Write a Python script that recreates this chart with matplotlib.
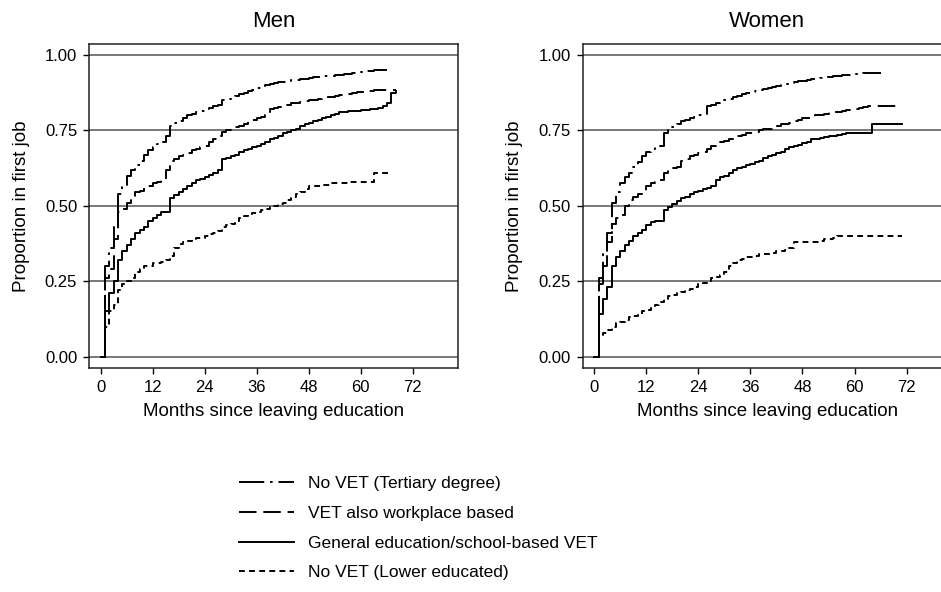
import matplotlib

matplotlib.use("Agg")
import matplotlib.pyplot as plt
import numpy as np

plt.rcParams["font.family"] = ["Liberation Sans", "DejaVu Sans"]

# Kaplan-Meier style failure curves, one value per month (month 0 = 0.0)
MEN_TERTIARY = [0.0, 0.30, 0.36, 0.44, 0.54, 0.565, 0.60, 0.62, 0.635, 0.65, 0.67,
                0.685, 0.695, 0.705, 0.71, 0.73, 0.765, 0.775, 0.78, 0.79, 0.80,
                0.805, 0.81, 0.815, 0.82, 0.825, 0.83, 0.835, 0.85, 0.855, 0.86,
                0.865, 0.87, 0.875, 0.88, 0.885, 0.89, 0.895, 0.90, 0.903, 0.906,
                0.91, 0.912, 0.914, 0.916, 0.918, 0.92, 0.922, 0.924, 0.926, 0.928,
                0.93, 0.931, 0.932, 0.933, 0.935, 0.937, 0.938, 0.94, 0.942, 0.944,
                0.946, 0.948, 0.95, 0.95, 0.95, 0.95]
MEN_WORKPLACE = [0.0, 0.26, 0.29, 0.39, 0.48, 0.49, 0.51, 0.53, 0.545, 0.55, 0.56,
                 0.565, 0.575, 0.58, 0.585, 0.62, 0.65, 0.655, 0.665, 0.67, 0.675,
                 0.685, 0.69, 0.695, 0.70, 0.71, 0.72, 0.73, 0.745, 0.75, 0.755,
                 0.76, 0.765, 0.77, 0.78, 0.785, 0.79, 0.795, 0.80, 0.82, 0.825,
                 0.828, 0.83, 0.835, 0.84, 0.842, 0.845, 0.848, 0.85, 0.852, 0.855,
                 0.858, 0.86, 0.862, 0.865, 0.868, 0.87, 0.872, 0.875, 0.876, 0.878,
                 0.88, 0.882, 0.884, 0.885, 0.885, 0.885, 0.885, 0.885]
MEN_GENERAL = [0.0, 0.15, 0.21, 0.25, 0.32, 0.35, 0.37, 0.39, 0.41, 0.42, 0.43,
               0.45, 0.46, 0.47, 0.48, 0.48, 0.525, 0.535, 0.545, 0.555, 0.565,
               0.575, 0.585, 0.59, 0.597, 0.603, 0.61, 0.619, 0.655, 0.66, 0.665,
               0.67, 0.68, 0.685, 0.69, 0.695, 0.70, 0.705, 0.71, 0.72, 0.725,
               0.73, 0.74, 0.745, 0.75, 0.755, 0.765, 0.77, 0.775, 0.78, 0.785,
               0.79, 0.795, 0.80, 0.805, 0.81, 0.812, 0.814, 0.815, 0.816, 0.817,
               0.818, 0.82, 0.822, 0.825, 0.83, 0.84, 0.875, 0.88]
MEN_LOWER = [0.0, 0.10, 0.15, 0.17, 0.22, 0.24, 0.25, 0.26, 0.28, 0.29, 0.30,
             0.30, 0.31, 0.31, 0.315, 0.32, 0.335, 0.36, 0.375, 0.38, 0.385,
             0.39, 0.395, 0.395, 0.40, 0.405, 0.41, 0.415, 0.43, 0.435, 0.44,
             0.45, 0.46, 0.465, 0.47, 0.475, 0.48, 0.485, 0.49, 0.495, 0.50,
             0.505, 0.51, 0.52, 0.53, 0.54, 0.545, 0.555, 0.565, 0.565, 0.565,
             0.57, 0.57, 0.575, 0.575, 0.575, 0.577, 0.578, 0.578, 0.578, 0.578,
             0.578, 0.578, 0.61, 0.61, 0.61, 0.61, 0.61]

WOMEN_TERTIARY = [0.0, 0.26, 0.34, 0.41, 0.51, 0.545, 0.575, 0.595, 0.61, 0.63, 0.645,
                  0.665, 0.68, 0.69, 0.695, 0.70, 0.74, 0.75, 0.76, 0.77, 0.78,
                  0.785, 0.79, 0.795, 0.80, 0.805, 0.83, 0.835, 0.84, 0.845, 0.85,
                  0.855, 0.86, 0.865, 0.87, 0.875, 0.878, 0.88, 0.885, 0.888, 0.89,
                  0.893, 0.896, 0.90, 0.903, 0.906, 0.91, 0.913, 0.915, 0.918, 0.92,
                  0.922, 0.925, 0.927, 0.928, 0.93, 0.931, 0.933, 0.934, 0.935, 0.937,
                  0.938, 0.94, 0.94, 0.94, 0.94, 0.94]
WOMEN_WORKPLACE = [0.0, 0.24, 0.30, 0.38, 0.44, 0.46, 0.47, 0.50, 0.52, 0.53, 0.54,
                   0.55, 0.565, 0.575, 0.58, 0.585, 0.61, 0.62, 0.625, 0.63, 0.65,
                   0.655, 0.665, 0.67, 0.675, 0.68, 0.69, 0.70, 0.705, 0.71, 0.715,
                   0.72, 0.725, 0.73, 0.735, 0.74, 0.74, 0.745, 0.75, 0.755, 0.755,
                   0.76, 0.765, 0.77, 0.77, 0.775, 0.78, 0.785, 0.79, 0.79, 0.795,
                   0.80, 0.80, 0.805, 0.81, 0.81, 0.812, 0.815, 0.818, 0.82, 0.822,
                   0.825, 0.828, 0.83, 0.832, 0.832, 0.832, 0.832, 0.832, 0.832, 0.832]
WOMEN_GENERAL = [0.0, 0.14, 0.19, 0.23, 0.30, 0.33, 0.35, 0.37, 0.385, 0.40, 0.41,
                 0.42, 0.435, 0.445, 0.45, 0.45, 0.485, 0.495, 0.505, 0.515, 0.525,
                 0.53, 0.54, 0.545, 0.55, 0.555, 0.56, 0.565, 0.585, 0.595, 0.60,
                 0.61, 0.62, 0.625, 0.63, 0.635, 0.64, 0.645, 0.65, 0.66, 0.665,
                 0.67, 0.675, 0.68, 0.69, 0.695, 0.70, 0.703, 0.707, 0.712, 0.72,
                 0.722, 0.725, 0.728, 0.73, 0.732, 0.735, 0.737, 0.74, 0.74, 0.74,
                 0.741, 0.742, 0.742, 0.77, 0.77, 0.77, 0.77, 0.77, 0.77, 0.77, 0.77]
WOMEN_LOWER = [0.0, 0.07, 0.08, 0.09, 0.10, 0.11, 0.115, 0.12, 0.13, 0.135, 0.14,
               0.15, 0.155, 0.16, 0.17, 0.18, 0.19, 0.20, 0.205, 0.21, 0.215,
               0.22, 0.225, 0.23, 0.24, 0.245, 0.25, 0.26, 0.265, 0.27, 0.28,
               0.30, 0.31, 0.32, 0.325, 0.33, 0.33, 0.335, 0.34, 0.34, 0.34,
               0.345, 0.35, 0.35, 0.355, 0.36, 0.38, 0.38, 0.38, 0.38, 0.38,
               0.38, 0.385, 0.39, 0.39, 0.395, 0.40, 0.40, 0.40, 0.40, 0.40,
               0.40, 0.40, 0.40, 0.40, 0.40, 0.40, 0.40, 0.40, 0.40, 0.40, 0.40]

LABELS = ["No VET (Tertiary degree)", "VET also workplace based",
          "General education/school-based VET", "No VET (Lower educated)"]
STYLES = [(0, (13, 3, 1.3, 3)), (0, (9, 3.5)), "-", (0, (3, 2.2))]

PANELS = [
    ("Men", [MEN_TERTIARY, MEN_WORKPLACE, MEN_GENERAL, MEN_LOWER]),
    ("Women", [WOMEN_TERTIARY, WOMEN_WORKPLACE, WOMEN_GENERAL, WOMEN_LOWER]),
]

X_TICKS = [0, 12, 24, 36, 48, 60, 72]
Y_TICKS = [0.0, 0.25, 0.5, 0.75, 1.0]

fig = plt.figure(figsize=(9.41, 5.92), dpi=100)
positions = [[0.0946, 0.3784, 0.3921, 0.5473],
             [0.6192, 0.3784, 0.3921, 0.5473]]

handles = []
for pos, (title, series) in zip(positions, PANELS):
    ax = fig.add_axes(pos)
    for yt in Y_TICKS:
        ax.axhline(yt, color="#555555", lw=1.1, zorder=1)
    for vals, ls in zip(series, STYLES):
        months = np.arange(len(vals))
        (ln,) = ax.plot(months, vals, drawstyle="steps-post", color="black",
                        lw=1.4, linestyle=ls, zorder=3)
        if len(handles) < 4:
            handles.append(ln)
    ax.set_xlim(-2.7, 82.4)
    ax.set_ylim(-0.0375, 1.0365)
    ax.set_xticks(X_TICKS)
    ax.set_yticks(Y_TICKS)
    ax.set_yticklabels([f"{v:.2f}" for v in Y_TICKS])
    ax.tick_params(direction="out", length=4.5, width=1, labelsize=12,
                   colors="black", pad=4)
    for sp in ax.spines.values():
        sp.set_color("#222222")
        sp.set_linewidth(1.1)
    ax.set_title(title, fontsize=16, pad=12.5)
    ax.set_xlabel("Months since leaving education", fontsize=13.5, labelpad=6)
    ax.set_ylabel("Proportion in first job", fontsize=13.5, labelpad=11)

fig.legend(handles, LABELS, loc="upper left", bbox_to_anchor=(0.2536, 0.196),
           frameon=False, fontsize=12.5, handlelength=3.2, handletextpad=0.8,
           labelspacing=0.84, borderpad=0, borderaxespad=0)

fig.savefig("out.png", dpi=100)
plt.close(fig)
